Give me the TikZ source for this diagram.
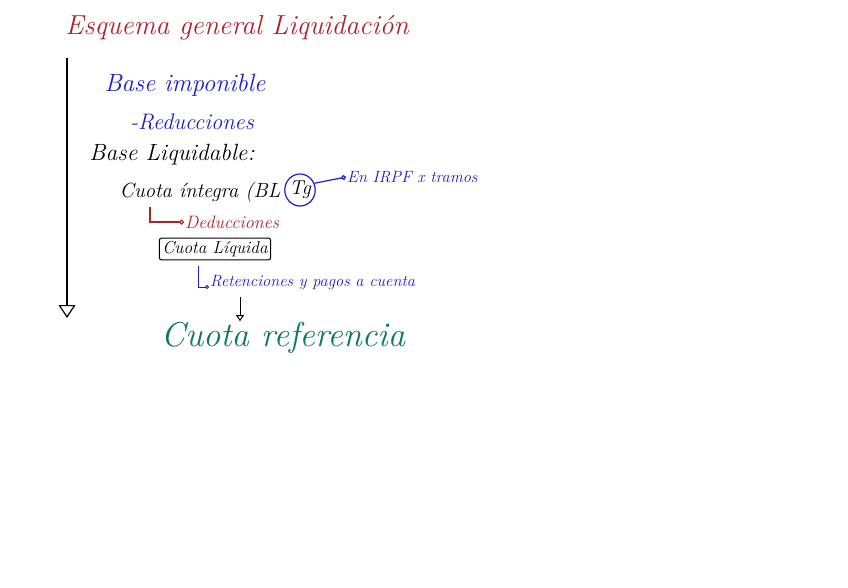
\documentclass[tikz,border=0pt]{standalone}
\usepackage{fontspec}
\usepackage{tikz}
\usetikzlibrary{arrows.meta,shapes.geometric}
\definecolor{liqred}{RGB}{178,32,42}
\definecolor{liqblue}{RGB}{28,28,212}
\definecolor{liqgreen}{RGB}{12,122,86}
\newcommand{\liqfont}[1]{\itshape\fontsize{#1}{#1}\selectfont}
\tikzset{
    liq/chart/.style={x=1pt, y=-1pt, every node/.style={inner sep=1pt}},
    liq/title/.style={text=liqred, font=\liqfont{27.5}},
    liq/blue/.style={text=liqblue, font=\liqfont{25}},
    liq/black/.style={text=black, font=\liqfont{23.5}},
    liq/small/.style={font=\liqfont{16.3}},
    liq/box/.style={rectangle, rounded corners=2pt, draw=black, line width=1pt, inner sep=3pt, font=\liqfont{17.3}},
    liq/circ/.style={ellipse, draw=liqblue, line width=1.2pt, inner sep=0pt, minimum width=30pt, minimum height=32pt, font=\liqfont{20}},
    liq/result/.style={text=liqgreen, font=\liqfont{34.5}},
    liq/hook/.style={line width=1.2pt, -{Circle[open, length=5pt]}}
}
\begin{document}
\begin{tikzpicture}[liq/chart]
    \useasboundingbox[fill=white] (0,0) rectangle (848,587);
    \node[liq/title] (title) at (237,28) {Esquema general Liquidación};
    \coordinate (axistop) at (67,58);
    \coordinate (axisend) at (67,318);
    \draw[line width=1.2pt, -{Triangle[open, length=13pt, width=17pt]}] (axistop) -- (axisend);
    \node[liq/blue] (bimp) at (185,85) {Base imponible};
    \node[liq/blue, font=\liqfont{22.5}] (reduc) at (192,122) {-Reducciones};
    \node[liq/black] (bliq) at (172,155) {Base Liquidable:};
    \node[liq/black, font=\liqfont{20.5}] (integ) at (200,192) {Cuota íntegra (BL};
    \node[liq/circ] (tg) at (300,190) {Tg};
    \node[liq/small, text=liqblue, anchor=west] (tramos) at (346,177) {En IRPF x tramos};
    \draw[liqblue, liq/hook] (tg.25) -- (tramos.west);
    \node[liq/small, text=liqred, font=\liqfont{18}, anchor=west] (deduc) at (184,222) {Deducciones};
    \coordinate (dedhook) at (150,207);
    \draw[liqred, liq/hook] (dedhook) |- (deduc.west);
    \node[liq/box] (cliq) at (215,249) {Cuota Líquida};
    \node[liq/small, text=liqblue, anchor=west] (retenc) at (209,283) {Retenciones y pagos a cuenta};
    \coordinate (rethook) at (198,266);
    \draw[liqblue, line width=1pt, -{Circle[open, length=4pt]}] (rethook) |- ([yshift=-4pt]retenc.west);
    \node[liq/result] (cref) at (283,338) {Cuota referencia};
    \coordinate (refstart) at (240,297);
    \draw[line width=1pt, -{Triangle[open, length=6pt, width=8pt]}] (refstart) -- (refstart |- cref.north);
\end{tikzpicture}
\end{document}
